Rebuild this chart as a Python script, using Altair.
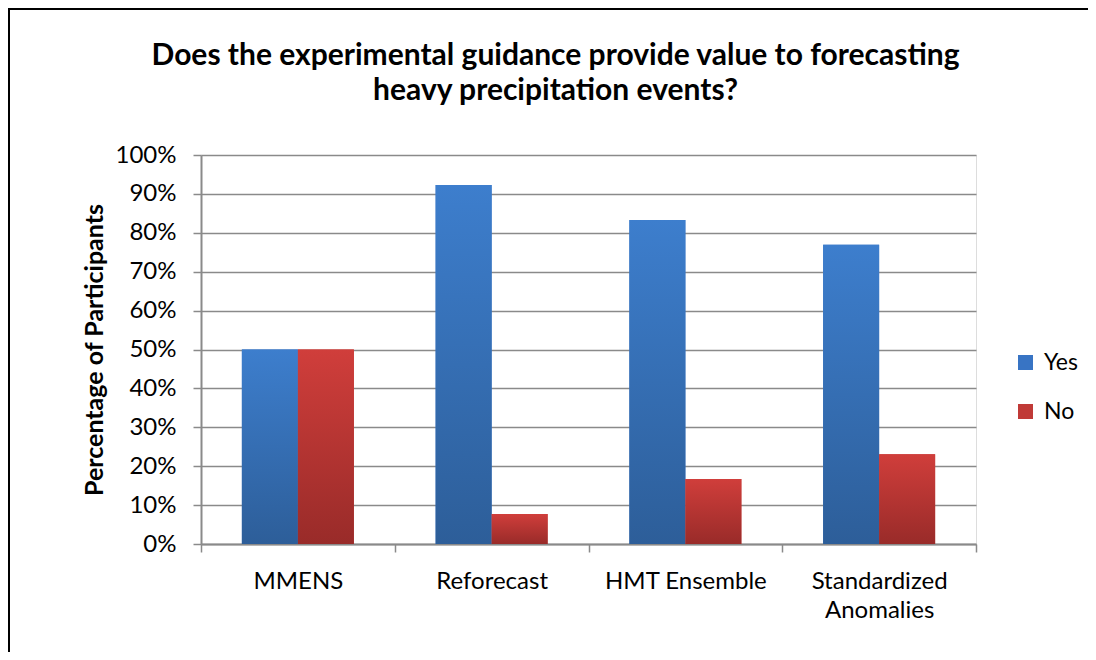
import altair as alt
import pandas as pd

categories = ["MMENS", "Reforecast", "HMT Ensemble", "Standardized Anomalies"]
series = ["Yes", "No"]
yes_values = [50.0, 92.3, 83.3, 76.9]
no_values = [50.0, 7.7, 16.7, 23.1]
y_ticks = [0, 10, 20, 30, 40, 50, 60, 70, 80, 90, 100]

rows = []
for c, yv, nv in zip(categories, yes_values, no_values):
    rows.append({"category": c, "series": "Yes", "value": yv})
    rows.append({"category": c, "series": "No", "value": nv})
df = pd.DataFrame(rows)

FONT = "Lato"
GRID = "#8a8a8a"

grad_yes = {"gradient": "linear", "x1": 0, "y1": 0, "x2": 0, "y2": 1,
            "stops": [{"offset": 0, "color": "#3d7ecd"}, {"offset": 1, "color": "#2d5e99"}]}
grad_no = {"gradient": "linear", "x1": 0, "y1": 0, "x2": 0, "y2": 1,
           "stops": [{"offset": 0, "color": "#d03e3b"}, {"offset": 1, "color": "#992b29"}]}

x_enc = alt.X("category:N", sort=categories, title=None,
              scale=alt.Scale(paddingInner=0, paddingOuter=0),
              axis=alt.Axis(labelAngle=0, tickBand="extent", tickSize=8, tickColor=GRID, tickWidth=1.5,
                            domainColor=GRID, domainWidth=2, grid=False,
                            labelFont=FONT, labelFontSize=24, labelColor="#000000",
                            labelPadding=17, labelLineHeight=29,
                            labelExpr="datum.label == 'Standardized Anomalies' ? ['Standardized', 'Anomalies'] : datum.label"))
xo_enc = alt.XOffset("series:N", sort=series, scale=alt.Scale(paddingInner=0, paddingOuter=0.73))
y_enc = alt.Y("value:Q", title="Percentage of Participants",
              scale=alt.Scale(domain=[0, 100], nice=False),
              axis=alt.Axis(values=y_ticks, labelExpr="datum.value + '%'",
                            tickSize=8, tickColor=GRID, tickWidth=1.5,
                            domainColor=GRID, domainWidth=2,
                            gridColor=GRID, gridWidth=1.5,
                            labelFont=FONT, labelFontSize=24, labelColor="#000000", labelPadding=17,
                            titleFont=FONT, titleFontSize=25, titleFontWeight="bold", titleColor="#000000",
                            titleX=-107, titleBaseline="middle"))

base = alt.Chart(df)

legend_bars = base.mark_bar().encode(
    x=x_enc, xOffset=xo_enc, y=y_enc,
    color=alt.Color("series:N", sort=series, title=None,
                    scale=alt.Scale(domain=series, range=["#3874c4", "#c03a37"]),
                    legend=alt.Legend(orient="none", legendX=813, legendY=196,
                                      symbolType="square", symbolSize=225, symbolStrokeWidth=0,
                                      labelFont=FONT, labelFontSize=23, labelColor="#000000",
                                      labelOffset=7, rowPadding=25, padding=0)),
)

grad_bars = base.mark_bar().encode(
    x=x_enc, xOffset=xo_enc, y=y_enc,
    fill=alt.condition(alt.datum.series == "Yes", alt.value(grad_yes), alt.value(grad_no)),
)

border = alt.Chart(pd.DataFrame({"a": [0]})).mark_rect(
    fill=None, stroke="#000000", strokeWidth=2
).encode(x=alt.value(-192), x2=alt.value(1200), y=alt.value(-146), y2=alt.value(1000))

chart = alt.layer(legend_bars, grad_bars, border).properties(
    width=775, height=389,
    padding={"left": 193, "top": 147, "right": 112, "bottom": 108},
    autosize=alt.AutoSizeParams(type="none"),
    title=alt.TitleParams(
        text=["Does the experimental guidance provide value to forecasting",
              "heavy precipitation events?"],
        font=FONT, fontSize=30, fontWeight="bold", color="#000000",
        anchor="middle", dx=-33, lineHeight=35, offset=-122, baseline="alphabetic"),
).configure_view(stroke="#000000", strokeWidth=1.5).configure(background="#ffffff")

chart.save("out.html", embed_options={"renderer": "svg", "actions": False})
